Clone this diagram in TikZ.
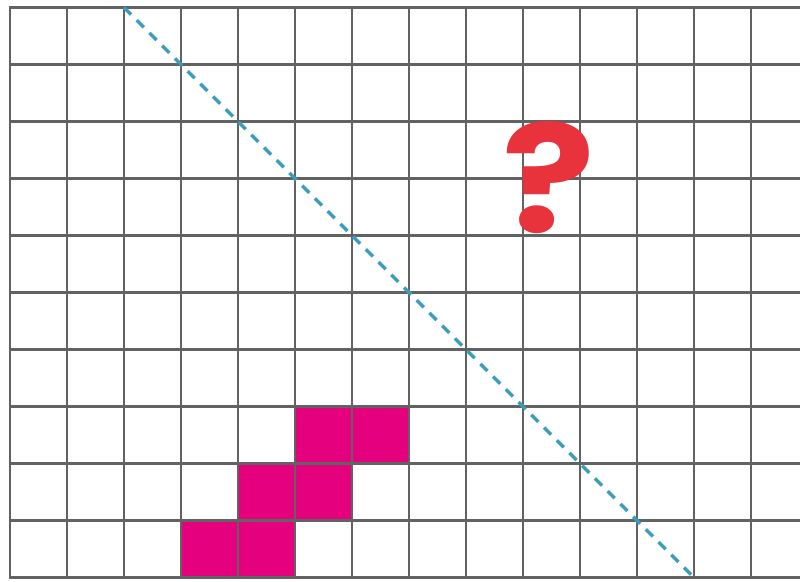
\documentclass[tikz,border=0pt]{standalone}
\usepackage{fontspec}
\setmainfont{DejaVu Sans}
\newfontfamily\qfont{Poppins}[UprightFont=* Bold]
\begin{document}
\begin{tikzpicture}[x=1pt,y=-1pt,
  gridline/.style={draw=gridgray,line width=2.8pt},
  cellfill/.style={fill=magentafill,draw=magentaedge,line width=1.2pt},
  diag/.style={draw=diagblue,line width=3.4pt,dash pattern=on 10pt off 8pt}]
\definecolor{gridgray}{HTML}{626262}
\definecolor{magentafill}{HTML}{E5007E}
\definecolor{magentaedge}{HTML}{9A0055}
\definecolor{diagblue}{HTML}{3A9DBE}
\definecolor{qred}{HTML}{E8323C}
\useasboundingbox[fill=white] (0,0) rectangle (800,581);
% magenta cells
\foreach \c/\r in {3/9,4/9,4/8,5/8,5/7,6/7}{
  \path[cellfill] ({10+57*\c},{7.5+57*\r}) rectangle ({10+57*(\c+1)},{7.5+57*(\r+1)});
}
% grid
\foreach \k in {0,...,10}{
  \path[gridline] (8.6,{7.5+57*\k}) -- (800,{7.5+57*\k});
}
\foreach \k in {0,...,13}{
  \path[gridline] ({10+57*\k},6.1) -- ({10+57*\k},578.9);
}
% diagonal
\coordinate (dstart) at (124,7.5);
\coordinate (dend) at (694,577.5);
\draw[diag] (dstart) -- (dend);
% question mark
\node[text=qred,inner sep=0pt,font=\qfont\fontsize{150}{150}\selectfont,xscale=1.15] (qmark) at (549,178) {?};
\end{tikzpicture}
\end{document}
